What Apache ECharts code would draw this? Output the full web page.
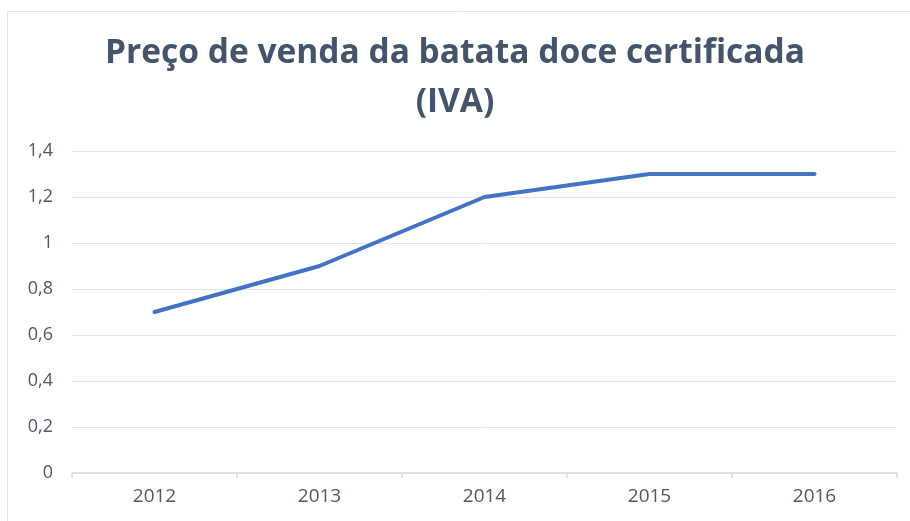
<!DOCTYPE html>
<html><head><meta charset="utf-8">
<script src="https://cdn.jsdelivr.net/npm/echarts@6/dist/echarts.min.js"></script>
<style>html,body{margin:0;padding:0;background:#fff}#c{width:910px;height:521px}</style>
</head><body><div id="c"></div>
<script>
const titleText = 'Preço de venda da batata doce certificada\n(IVA)';
const categories = ['2012', '2013', '2014', '2015', '2016'];
const values = [0.7, 0.9, 1.2, 1.3, 1.3];
const chart = echarts.init(document.getElementById('c'));
chart.setOption({
  animation: false,
  graphic: [{type: 'rect', shape: {x: 7.5, y: 11.5, width: 1000, height: 1000}, style: {fill: 'none', stroke: '#e3e3e3', lineWidth: 1}, silent: true, z: -1}],
  title: {text: titleText, left: 'center', top: 24, padding: [5, 0, 5, 20], textStyle: {fontFamily: 'Open Sans', fontSize: 33.5, fontWeight: 'bold', color: '#44546A', lineHeight: 49}},
  grid: {left: 72, right: 13, top: 151, bottom: 48},
  xAxis: {type: 'category', data: categories, boundaryGap: true,
    axisLine: {lineStyle: {color: '#d9d9d9', width: 1.5}},
    axisTick: {show: true, length: 5, lineStyle: {color: '#d9d9d9', width: 1.5}},
    axisLabel: {color: '#4d5766', fontFamily: 'Open Sans', fontSize: 19, margin: 14}},
  yAxis: {type: 'value', min: 0, max: 1.4, interval: 0.2,
    axisLine: {show: false}, axisTick: {show: false},
    splitLine: {lineStyle: {color: '#e3e3e3', width: 1}},
    axisLabel: {color: '#4d5766', fontFamily: 'Open Sans', fontSize: 18, margin: 19,
      formatter: v => String(Math.round(v * 10) / 10).replace('.', ',')}},
  series: [{type: 'line', data: values, symbol: 'none', lineStyle: {color: '#4472C4', width: 4, cap: 'round'}}]
});
</script></body></html>
